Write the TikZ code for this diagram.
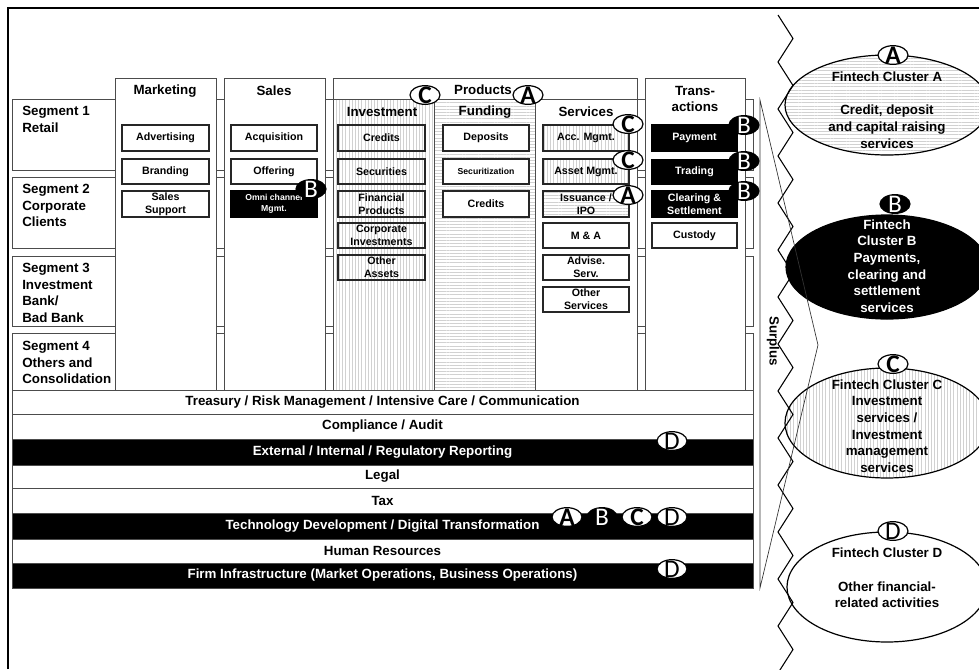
\documentclass[tikz,border=0pt]{standalone}
\usepackage{fontspec}
\setmainfont{Liberation Sans}
\newfontfamily\badgefont{Carlito}
\usetikzlibrary{shapes.geometric,patterns.meta}
\newcommand\bx[7]{\node[#6, minimum width={(#4-#2)*0.75pt}, minimum height={(#5-#3)*0.75pt}] (#1) at ({(#2+#4)/2},{(#3+#5)/2}) {#7};}
\tikzset{
  rowbox/.style={draw=black!70, line width=0.6pt, fill=white, inner sep=0pt, outer sep=0pt},
  colbox/.style={draw=black!70, line width=0.6pt, fill=white, inner sep=0pt, outer sep=0pt},
  vstripe/.style={preaction={fill=white}, pattern={Lines[angle=90,distance=2.4pt,line width=0.35pt]}, pattern color=black!18},
  hstripe/.style={preaction={fill=white}, pattern={Lines[angle=0,distance=2.4pt,line width=0.35pt]}, pattern color=black!18},
  ibox/.style={draw=black!85, line width=0.8pt, fill=white, inner sep=0pt, outer sep=0pt, align=center, font=\bfseries\fontsize{8}{9.5}\selectfont},
  iblack/.style={ibox, fill=black, draw=black, text=white},
  small/.style={font=\bfseries\fontsize{6.5}{8}\selectfont},
  hdr/.style={inner sep=0pt, align=center},
  seglbl/.style={anchor=north west, align=left, inner sep=0pt},
  bandw/.style={draw=black!70, line width=0.6pt, fill=white, inner sep=0pt, outer sep=0pt},
  bandb/.style={draw=black!70, line width=0.6pt, fill=black, text=white, inner sep=0pt, outer sep=0pt},
  clus/.style={ellipse, draw=black, line width=0.9pt, inner sep=0pt},
  clt/.style={align=center, inner sep=0pt},
  badge/.style={ellipse, draw=black, line width=0.9pt, minimum width=22.5pt, minimum height=14pt, inner sep=0pt},
  bw/.style={badge, fill=white, label={[font=\badgefont\bfseries\fontsize{19}{19}\selectfont, text=black, inner sep=0pt]center:#1}},
  bwr/.style={badge, fill=white, label={[font=\badgefont\fontsize{19}{19}\selectfont, text=black, inner sep=0pt]center:#1}},
  bb/.style={badge, fill=black, label={[font=\badgefont\fontsize{19}{19}\selectfont, text=white, inner sep=0pt]center:#1}},
}
\begin{document}
\begin{tikzpicture}[x=0.75pt,y=-0.75pt, font=\bfseries\fontsize{10}{12.5}\selectfont]
\useasboundingbox (0,0) rectangle (979,669);
\fill[white] (0,0) rectangle (979,669);
\draw[line width=1.5pt] (8,669) -- (8,8) -- (979,8);

% segment rows
\bx{seg1}{12}{99}{753}{170}{rowbox}{}
\bx{seg2}{12}{177}{753}{248}{rowbox}{}
\bx{seg3}{12}{256}{753}{326}{rowbox}{}
\bx{seg4}{12}{333}{753}{390}{rowbox}{}
\node[seglbl] (s1t) at (22,106) {Segment 1\\Retail};
\node[seglbl] (s2t) at (22,184) {Segment 2\\Corporate\\Clients};
\node[seglbl] (s3t) at (22,263) {Segment 3\\Investment\\Bank/\\Bad Bank};
\node[seglbl] (s4t) at (22,341) {Segment 4\\Others and\\Consolidation};

% columns
\bx{mkt}{115}{78}{216}{390}{colbox}{}
\bx{sal}{224}{78}{325}{390}{colbox}{}
\bx{prd}{333}{78}{637}{390}{colbox}{}
\bx{trn}{645}{78}{745}{390}{colbox}{}
\bx{inv}{333}{99}{434}{390}{colbox,vstripe}{}
\bx{fnd}{434}{99}{535}{390}{colbox,hstripe}{}
\bx{srv}{535}{99}{637}{390}{colbox}{}

\node[hdr] (mktH) at (165,91) {Marketing};
\node[hdr] (salH) at (274,91) {Sales};
\node[hdr] (prdH) at (483,90) {Products};
\node[hdr] (invH) at (382,112) {Investment};
\node[hdr] (fndH) at (485,112) {Funding};
\node[hdr] (srvH) at (586,112) {Services};
\node[hdr] (trnH) at (695,99) {Trans-\\actions};

% marketing
\bx{adv}{122}{125}{209}{151}{ibox}{Advertising}
\bx{brd}{122}{159}{209}{184}{ibox}{Branding}
\bx{ssp}{122}{191}{209}{217}{ibox}{Sales\\Support}
% sales
\bx{acq}{231}{125}{317}{151}{ibox}{Acquisition}
\bx{off}{231}{159}{317}{184}{ibox}{Offering}
\bx{omn}{231}{191}{317}{217}{iblack,small}{Omni channel\\Mgmt.}
% investment
\bx{icr}{338}{125}{425}{151}{ibox,vstripe}{Credits}
\bx{isc}{338}{159}{425}{184}{ibox,vstripe}{Securities}
\bx{ifp}{338}{191}{425}{217}{ibox,vstripe}{Financial\\Products}
\bx{ici}{338}{223}{425}{248}{ibox,vstripe}{Corporate\\Investments}
\bx{ioa}{338}{255}{425}{280}{ibox,vstripe}{Other\\Assets}
% funding
\bx{fdp}{443}{125}{529}{151}{ibox}{Deposits}
\bx{fsc}{443}{159}{529}{184}{ibox,small}{Securitization}
\bx{fcr}{443}{191}{529}{217}{ibox}{Credits}
% services
\bx{acc}{543}{125}{629}{151}{ibox,vstripe}{Acc. Mgmt.}
\bx{asm}{543}{159}{629}{184}{ibox,vstripe}{Asset Mgmt.}
\bx{iss}{543}{191}{629}{217}{ibox,hstripe}{Issuance /\\IPO}
\bx{mna}{543}{223}{629}{248}{ibox}{M \& A}
\bx{avs}{543}{255}{629}{280}{ibox}{Advise.\\Serv.}
\bx{osv}{543}{287}{629}{312}{ibox}{Other\\Services}
% transactions
\bx{pay}{652}{125}{737}{151}{iblack}{Payment}
\bx{trd}{652}{160}{737}{184}{iblack}{Trading}
\bx{clr}{652}{191}{737}{217}{iblack}{Clearing \&\\Settlement}
\bx{cus}{652}{223}{737}{248}{ibox}{Custody}

% bands
\bx{b1}{12}{390}{753}{414}{bandw}{Treasury / Risk Management / Intensive Care / Communication}
\bx{b2}{12}{414}{753}{439}{bandw}{Compliance / Audit}
\bx{b3}{12}{439}{753}{465}{bandb}{External / Internal / Regulatory Reporting}
\bx{b4}{12}{465}{753}{488}{bandw}{Legal}
\bx{b5}{12}{488}{753}{513}{bandw}{Tax}
\bx{b6}{12}{513}{753}{539}{bandb}{Technology Development / Digital Transformation}
\bx{b7}{12}{539}{753}{563}{bandw}{Human Resources}
\bx{b8}{12}{563}{753}{588}{bandb}{Firm Infrastructure (Market Operations, Business Operations)}

% badges in the chain
\node[bw=C] (gC1) at (425,95) {};
\node[bw=A] (gA1) at (528,95) {};
\node[bw=C] (gC2) at (628,124) {};
\node[bw=C] (gC3) at (628,160) {};
\node[bw=A] (gA2) at (628,195) {};
\node[bb=B] (gB1) at (311,189) {};
\node[bb=B] (gB2) at (744,125) {};
\node[bb=B] (gB3) at (744,161) {};
\node[bb=B] (gB4) at (744,191) {};
\node[bwr=D] (gD1) at (672,441) {};
\node[bw=A] (gA3) at (567,517) {};
\node[bb=B] (gB5) at (602,517) {};
\node[bw=C] (gC4) at (637,517) {};
\node[bwr=D] (gD2) at (672,517) {};
\node[bwr=D] (gD3) at (672,569) {};

% clusters
\node[clus, hstripe, minimum width=153pt, minimum height=75pt] (clA) at (887,105) {};
\node[clus, fill=black, minimum width=151.5pt, minimum height=78pt] (clB) at (887,267) {};
\node[clus, vstripe, minimum width=153pt, minimum height=82.5pt] (clC) at (887,423) {};
\node[clus, fill=white, minimum width=150pt, minimum height=82.5pt] (clD) at (887,587) {};
\node[clt] (clAt) at (887,110) {Fintech Cluster A\\[12.5pt]Credit, deposit\\and capital raising\\services};
\node[clt, text=white] (clBt) at (887,266) {Fintech\\Cluster B\\Payments,\\clearing and\\settlement\\services};
\node[clt] (clCt) at (887,426) {Fintech Cluster C\\Investment\\services /\\Investment\\management\\services};
\node[clt] (clDt) at (887,578) {Fintech Cluster D\\[12.5pt]Other financial-\\related activities};
\node[bw=A] (kA) at (893,55) {};
\node[bb=B] (kB) at (895,204) {};
\node[bw=C] (kC) at (893,364) {};
\node[bwr=D] (kD) at (893,531) {};

% zigzag separator
\draw[line width=0.8pt, line join=miter] (778,15) \foreach \k in {0,...,13} { -- (793,{38.5+47*\k}) -- (778,{62+47*\k}) };

% surplus brace
\coordinate (brT) at (760,100);
\coordinate (brA) at (818,345);
\coordinate (brB) at (760,588);
\draw[line width=0.5pt, black!80] (brT) -- (brA) -- (brB) -- cycle;
\node[rotate=-90, inner sep=0pt] (surplus) at (773,341) {Surplus};
\end{tikzpicture}
\end{document}
